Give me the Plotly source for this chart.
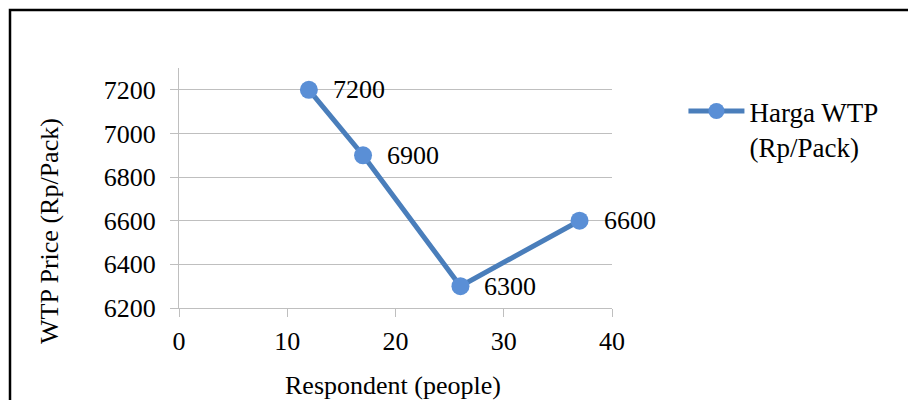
import plotly.graph_objects as go

# Willingness-to-pay survey: number of respondents at each price point
respondents = [12, 17, 26, 37]
wtp_price = [7200, 6900, 6300, 6600]
series_name = "Harga WTP<br>(Rp/Pack)"
x_title = "Respondent (people)"
y_title = "WTP Price (Rp/Pack)"
x_ticks = [0, 10, 20, 30, 40]
y_ticks = [6200, 6400, 6600, 6800, 7000, 7200]

FONT = "Liberation Serif, Times New Roman, serif"
LINE_BLUE = "#4a7ebb"
MARKER_BLUE = "#5a8fd6"
GRID = "#bfbfbf"

fig = go.Figure()
fig.add_trace(go.Scatter(
    x=respondents,
    y=wtp_price,
    mode="lines+markers",
    name=series_name,
    line=dict(color=LINE_BLUE, width=5),
    marker=dict(color=MARKER_BLUE, size=18, line=dict(width=0)),
    cliponaxis=False,
))

# value labels to the right of each point
for xv, yv in zip(respondents, wtp_price):
    fig.add_annotation(
        x=xv, y=yv, text=str(yv), showarrow=False,
        xanchor="left", yanchor="middle", xshift=22,
        font=dict(family=FONT, size=26, color="black"),
    )

# axis titles
fig.add_annotation(
    x=0.494, y=-0.321, xref="paper", yref="paper", text=x_title,
    showarrow=False, xanchor="center", yanchor="middle",
    font=dict(family=FONT, size=26, color="black"),
)
fig.add_annotation(
    x=-0.298, y=0.321, xref="paper", yref="paper", text=y_title,
    textangle=-90, showarrow=False, xanchor="center", yanchor="middle",
    font=dict(family=FONT, size=26, color="black"),
)

# outer chart frame
fig.add_shape(
    type="rect", xref="paper", yref="paper",
    x0=-0.3903, x1=2.0, y0=-1.0, y1=1.2417,
    line=dict(color="black", width=2.5), fillcolor="rgba(0,0,0,0)",
    layer="above",
)

fig.update_layout(
    width=908, height=400,
    margin=dict(l=179, r=296, t=68, b=92),
    paper_bgcolor="white", plot_bgcolor="white",
    font=dict(family=FONT, size=26, color="black"),
    showlegend=True,
    legend=dict(
        x=1.165, y=0.921, xanchor="left", yanchor="top",
        bgcolor="rgba(0,0,0,0)", valign="top", itemwidth=56,
        font=dict(family=FONT, size=27, color="black"),
    ),
    xaxis=dict(
        range=[0, 40], tickvals=x_ticks,
        showgrid=False, zeroline=False, automargin=False,
        showline=True, linecolor=GRID, linewidth=1,
        ticks="outside", ticklen=8, tickcolor=GRID,
        ticklabelstandoff=2,
    ),
    yaxis=dict(
        range=[6200, 7300], tickvals=y_ticks,
        showgrid=True, gridcolor=GRID, gridwidth=1, zeroline=False,
        automargin=False,
        showline=True, linecolor=GRID, linewidth=1,
        ticks="outside", ticklen=8, tickcolor=GRID,
        ticklabelstandoff=9,
    ),
)

fig.write_html("out.html")
